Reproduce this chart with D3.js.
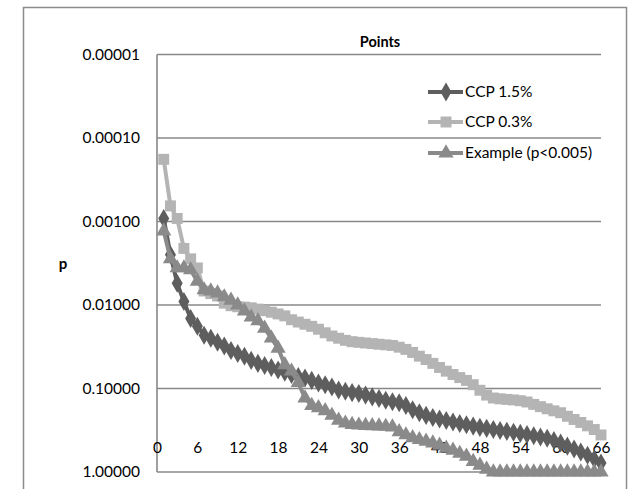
<!DOCTYPE html>
<html>
<head>
<meta charset="utf-8">
<script src="https://cdn.jsdelivr.net/npm/d3@7"></script>
<style>
  html, body { margin: 0; padding: 0; background: #fff; }
  svg { display: block; }
  text { font-family: Lato, "Open Sans", sans-serif; fill: #000; }
</style>
</head>
<body>
<svg id="chart" width="633" height="489"></svg>
<script>
// Point index along the horizontal axis
const points = d3.range(1, 67);

// p-values per point, one array per series
const ccp15 = [
  0.00092, 0.0025, 0.0055, 0.0091, 0.0145, 0.018, 0.023, 0.025, 0.028, 0.031,
  0.035, 0.038, 0.041, 0.046, 0.050, 0.053, 0.056, 0.060, 0.064, 0.068,
  0.072, 0.075, 0.080, 0.086, 0.090, 0.096, 0.104, 0.108, 0.112, 0.115,
  0.120, 0.126, 0.132, 0.138, 0.144, 0.148, 0.160, 0.180, 0.195, 0.210,
  0.222, 0.232, 0.242, 0.252, 0.262, 0.272, 0.282, 0.292, 0.300, 0.310,
  0.318, 0.326, 0.334, 0.345, 0.356, 0.368, 0.380, 0.395, 0.420, 0.450,
  0.490, 0.530, 0.575, 0.630, 0.700, 0.780
];
const ccp03 = [
  0.00018, 0.00065, 0.00092, 0.0021, 0.0028, 0.0036, 0.0068, 0.0073, 0.0078, 0.0095,
  0.0102, 0.0105, 0.0106, 0.0108, 0.0112, 0.0117, 0.0122, 0.0128, 0.0135, 0.0150,
  0.0160, 0.0170, 0.0180, 0.0195, 0.0215, 0.0235, 0.0250, 0.0265, 0.0275, 0.0280,
  0.0285, 0.0290, 0.0295, 0.0300, 0.0305, 0.0320, 0.0340, 0.0370, 0.0410, 0.0450,
  0.0500, 0.0560, 0.0620, 0.0680, 0.0740, 0.0800, 0.0900, 0.1050, 0.1200, 0.1300,
  0.1330, 0.1350, 0.1370, 0.1400, 0.1450, 0.1550, 0.1650, 0.1750, 0.1850, 0.1950,
  0.2150, 0.2350, 0.2550, 0.2800, 0.3100, 0.3600
];
const example = [
  0.0013, 0.0028, 0.0036, 0.0036, 0.0038, 0.0052, 0.0066, 0.0068, 0.0072, 0.0080,
  0.0088, 0.0100, 0.0118, 0.0140, 0.0155, 0.0190, 0.0250, 0.0330, 0.0520, 0.0620,
  0.0850, 0.1300, 0.1600, 0.1700, 0.1850, 0.2100, 0.2400, 0.2600, 0.2700, 0.2750,
  0.2780, 0.2800, 0.2820, 0.2850, 0.2900, 0.3300, 0.3600, 0.3900, 0.4100, 0.4300,
  0.4500, 0.4800, 0.5200, 0.5500, 0.6000, 0.6500, 0.7500, 0.8300, 0.9300, 1.0,
  1.0, 1.0, 1.0, 1.0, 1.0, 1.0, 1.0, 1.0, 1.0, 1.0,
  1.0, 1.0, 1.0, 1.0, 1.0, 1.0
];

const seriesNames = ["CCP 1.5%", "CCP 0.3%", "Example (p<0.005)"];
const xTicks = [0, 6, 12, 18, 24, 30, 36, 42, 48, 54, 60, 66];
const yTicks = [0.00001, 0.0001, 0.001, 0.01, 0.1, 1];
const titleText = "Points";
const yTitle = "p";

const series = [
  { name: seriesNames[0], values: ccp15, color: "#5e5e5e", symbol: d3.symbolDiamond, size: 105 },
  { name: seriesNames[1], values: ccp03, color: "#b4b4b4", symbol: d3.symbolSquare, size: 120 },
  { name: seriesNames[2], values: example, color: "#8a8a8a", symbol: d3.symbolTriangle, size: 100 }
];

const svg = d3.select("#chart");
const W = 633, H = 489;
const plot = { left: 157, right: 601, top: 54.5, bottom: 472 };
const gridColor = "#888888";

svg.append("rect").attr("width", W).attr("height", H).attr("fill", "#fff");

// chart frame
svg.append("rect")
  .attr("x", 23.5).attr("y", 7.5)
  .attr("width", 603).attr("height", 500)
  .attr("fill", "none").attr("stroke", "#8c8c8c").attr("stroke-width", 1.5);

const x = d3.scaleLinear().domain([0, 66]).range([plot.left, plot.right]);
const y = d3.scaleLog().domain([0.00001, 1]).range([plot.top, plot.bottom]);

// horizontal gridlines
svg.append("g").selectAll("line").data(yTicks).join("line")
  .attr("x1", plot.left).attr("x2", plot.right)
  .attr("y1", d => y(d)).attr("y2", d => y(d))
  .attr("stroke", gridColor).attr("stroke-width", 1.6);

// vertical axis line
svg.append("line")
  .attr("x1", plot.left).attr("x2", plot.left)
  .attr("y1", plot.top).attr("y2", plot.bottom)
  .attr("stroke", gridColor).attr("stroke-width", 1.6);

// y tick labels
const yAxis = d3.axisLeft(y).tickValues(yTicks).tickFormat(d3.format(".5f")).tickSize(0).tickPadding(17);
const gy = svg.append("g").attr("transform", `translate(${plot.left},0)`).call(yAxis);
gy.select(".domain").remove();
gy.selectAll("text").style("font-family", "Lato, sans-serif").style("font-size", "15.5px").attr("fill", "#000");

// x tick labels (sit just above the bottom gridline)
const xAxis = d3.axisTop(x).tickValues(xTicks).tickFormat(d3.format("d")).tickSize(0).tickPadding(19);
const gx = svg.append("g").attr("transform", `translate(0,${plot.bottom})`).call(xAxis);
gx.select(".domain").remove();
gx.selectAll("text").style("font-family", "Lato, sans-serif").style("font-size", "15.5px").attr("fill", "#000");

// title and axis title
svg.append("text").attr("x", 380).attr("y", 42).attr("dy", "0.35em")
  .attr("text-anchor", "middle").style("font-weight", "bold").style("font-size", "14.5px")
  .text(titleText);
svg.append("text").attr("x", 63).attr("y", 264).attr("dy", "0.35em")
  .attr("text-anchor", "middle").style("font-weight", "bold").style("font-size", "15px")
  .text(yTitle);

// series lines and markers
const line = d3.line().x((d, i) => x(points[i])).y(d => y(d));
series.forEach(s => {
  const g = svg.append("g");
  g.append("path").attr("d", line(s.values))
    .attr("fill", "none").attr("stroke", s.color).attr("stroke-width", 4)
    .attr("stroke-linejoin", "round");
  g.selectAll("path.m").data(s.values).join("path").attr("class", "m")
    .attr("transform", (d, i) => `translate(${x(points[i])},${y(d)})`)
    .attr("d", d3.symbol().type(s.symbol).size(s.size))
    .attr("fill", s.color);
});

// legend
const legendY = [92, 122, 153];
series.forEach((s, i) => {
  const g = svg.append("g").attr("transform", `translate(0,${legendY[i]})`);
  g.append("line").attr("x1", 428).attr("x2", 463).attr("y1", 0).attr("y2", 0)
    .attr("stroke", s.color).attr("stroke-width", 4);
  g.append("path").attr("transform", "translate(446,0)")
    .attr("d", d3.symbol().type(s.symbol).size(s.size)).attr("fill", s.color);
  g.append("text").attr("x", 465).attr("y", 0).attr("dy", "0.35em")
    .style("font-size", "15.5px").text(s.name);
});
</script>
</body>
</html>
